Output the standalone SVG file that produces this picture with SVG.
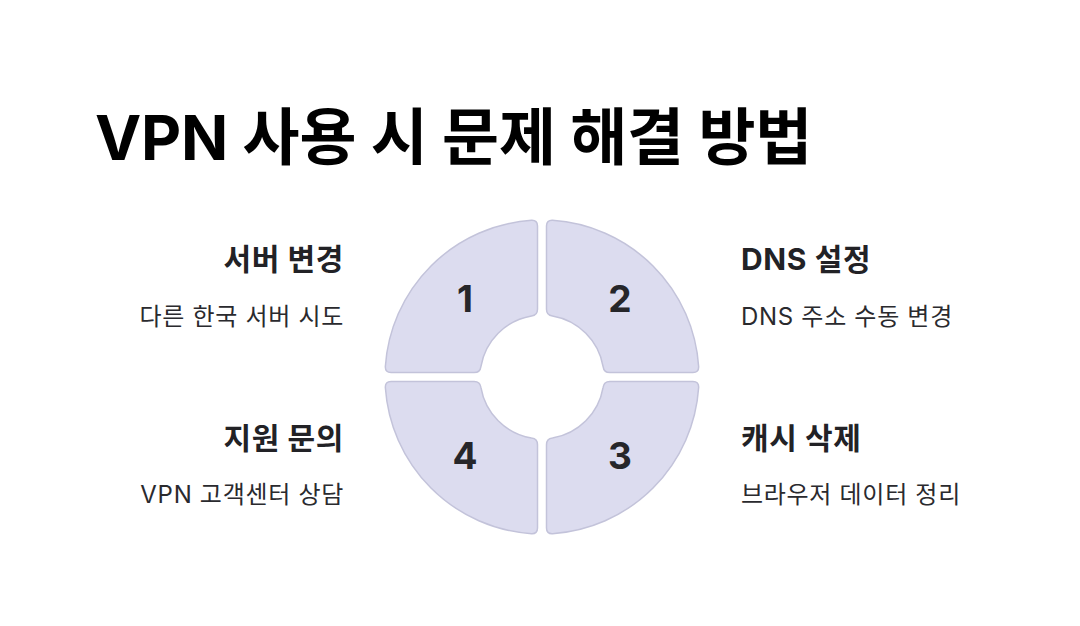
<svg xmlns="http://www.w3.org/2000/svg" width="1080" height="626" viewBox="0 0 1080 626">
<style>
.title{font-family:Inter,"Noto Sans CJK KR",sans-serif;font-weight:700;font-size:62px;fill:#000;letter-spacing:-0.2px}
.h{font-family:Inter,"Noto Sans CJK KR",sans-serif;font-weight:700;font-size:30px;fill:#222226;letter-spacing:0.6px}
.s{font-family:Inter,"Noto Sans CJK KR",sans-serif;font-weight:400;font-size:24px;fill:#2a2a2e;letter-spacing:0.7px}
.num{font-family:Inter,"Noto Sans CJK KR",sans-serif;font-weight:700;font-size:37px;fill:#26262a;text-anchor:middle}
.seg{fill:#dcdcef;stroke:#c3c3da;stroke-width:1.5}
.r{text-anchor:end}
</style>
<defs>
<path id="q" d="M -4.5,-150.94 L -4.5,-67.84 Q -4.5,-61.84 -10.45,-61.11 A 62 62 0 0 0 -61.11,-10.45 Q -61.84,-4.5 -67.84,-4.5 L -150.94,-4.5 Q -156.94,-4.5 -156.65,-10.49 A 157 157 0 0 1 -10.49,-156.65 Q -4.5,-156.94 -4.5,-150.94 Z"/>
</defs>
<rect width="1080" height="626" fill="#fff"/>
<text class="title" x="95" y="160">VPN 사용 시 문제 해결 방법</text>
<g id="connectors"></g>
<g id="node1">
<use href="#q" class="seg" transform="translate(542,377)"/>
<text class="num" x="465" y="312">1</text>
<text class="h r" x="344" y="270">서버 변경</text>
<text class="s r" x="344" y="325">다른 한국 서버 시도</text>
</g>
<g id="node2">
<use href="#q" class="seg" transform="translate(542,377) scale(-1,1)"/>
<text class="num" x="620" y="312">2</text>
<text class="h" x="741" y="270">DNS 설정</text>
<text class="s" x="741" y="325">DNS 주소 수동 변경</text>
</g>
<g id="node3">
<use href="#q" class="seg" transform="translate(542,377) scale(-1,-1)"/>
<text class="num" x="620" y="469">3</text>
<text class="h" x="741" y="449">캐시 삭제</text>
<text class="s" x="741" y="503">브라우저 데이터 정리</text>
</g>
<g id="node4">
<use href="#q" class="seg" transform="translate(542,377) scale(1,-1)"/>
<text class="num" x="465" y="469">4</text>
<text class="h r" x="344" y="449">지원 문의</text>
<text class="s r" x="344" y="503">VPN 고객센터 상담</text>
</g>
</svg>
